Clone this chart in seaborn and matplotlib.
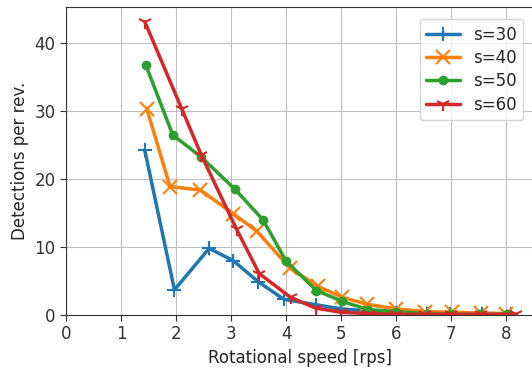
import matplotlib
matplotlib.use("Agg")
import matplotlib.pyplot as plt
import seaborn as sns

# readings per cluster size s, rotational speed [rps] vs detections per rev.
speed_s30 = [1.43, 1.97, 2.60, 3.04, 3.49, 3.96, 4.55, 5.00, 5.48, 6.00, 6.55, 6.98, 7.55, 8.08]
det_s30 = [24.3, 3.7, 9.8, 8.0, 4.9, 2.3, 1.5, 0.9, 0.6, 0.3, 0.2, 0.1, 0.1, 0.1]

speed_s40 = [1.47, 1.89, 2.44, 3.04, 3.47, 4.07, 4.58, 5.02, 5.46, 5.99, 6.53, 7.02, 7.54, 7.99]
det_s40 = [30.3, 18.9, 18.4, 14.9, 12.3, 6.9, 4.2, 2.6, 1.6, 0.9, 0.5, 0.4, 0.3, 0.2]

speed_s50 = [1.45, 1.94, 2.45, 3.07, 3.58, 4.00, 4.55, 5.02, 5.49, 6.00, 6.55, 7.00, 7.52, 8.02]
det_s50 = [36.8, 26.5, 23.3, 18.5, 14.0, 7.9, 3.6, 2.0, 0.8, 0.5, 0.2, 0.1, 0.1, 0.1]

speed_s60 = [1.43, 2.10, 2.46, 3.10, 3.51, 4.08, 4.54, 5.00, 5.50, 6.00, 6.52, 7.00, 7.54, 8.18]
det_s60 = [43.2, 30.4, 23.5, 12.6, 6.1, 2.6, 1.0, 0.4, 0.2, 0.1, 0.1, 0.1, 0.1, 0.1]

labels = ["s=30", "s=40", "s=50", "s=60"]

SERIES = [
    (speed_s30, det_s30, "#1f77b4", "+", 10),
    (speed_s40, det_s40, "#ff7f0e", "x", 10),
    (speed_s50, det_s50, "#2ca02c", ".", 11),
    (speed_s60, det_s60, "#d62728", "1", 10),
]

sns.set_style("ticks", {
    "axes.grid": True,
    "grid.color": "#c0c0c0",
    "axes.edgecolor": "#333333",
    "xtick.color": "#333333",
    "ytick.color": "#333333",
})
plt.rcParams["font.family"] = ["DejaVu Sans"]
plt.rcParams["font.size"] = 12

fig = plt.figure(figsize=(5.32, 3.72), dpi=100)
ax = fig.add_axes([66 / 532, 1 - 315 / 372, (535 - 66) / 532, (315 - 7.3) / 372])

for (xs, ys, color, marker, ms), label in zip(SERIES, labels):
    sns.lineplot(
        x=xs, y=ys, ax=ax, color=color, marker=marker, label=label,
        linewidth=2.5, markersize=ms, markeredgecolor=color,
        markeredgewidth=1.5, sort=False,
    )

ax.set_xlim(0, 8.52)
ax.set_ylim(0, 45.3)
ax.set_xticks(range(0, 9))
ax.set_yticks([0, 10, 20, 30, 40])
ax.tick_params(labelsize=12, length=4)
ax.set_xlabel("Rotational speed [rps]", fontsize=12)
ax.set_ylabel("Detections per rev.", fontsize=12)
for side in ["top", "bottom", "left", "right"]:
    ax.spines[side].set_visible(True)
ax.legend(loc="upper right", fontsize=12, frameon=True, framealpha=0.8,
          edgecolor="#cccccc", fancybox=True, labelspacing=0.32,
          borderaxespad=0.7)

fig.savefig("out.png", dpi=100)
